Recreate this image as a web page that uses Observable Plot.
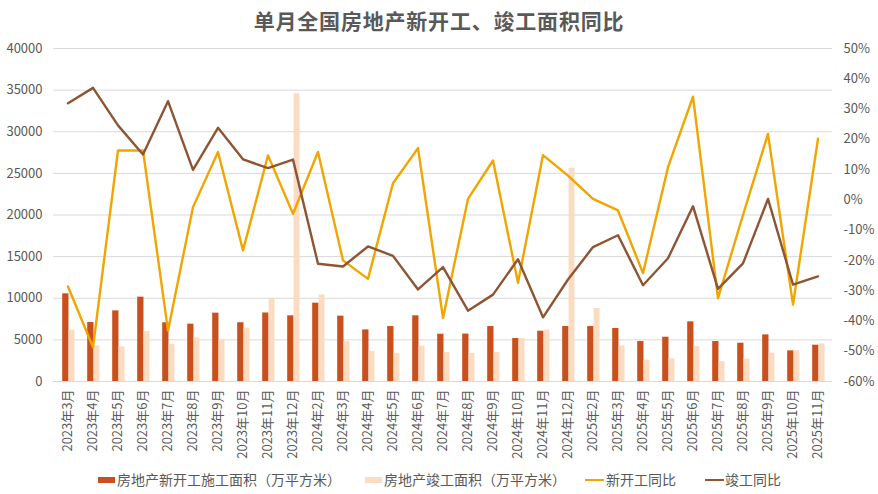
<!DOCTYPE html>
<html>
<head>
<meta charset="utf-8">
<script src="https://cdn.jsdelivr.net/npm/d3@7"></script>
<script src="https://cdn.jsdelivr.net/npm/@observablehq/plot@0.6"></script>
<style>
  html, body { margin: 0; padding: 0; background: #fff; }
  body { width: 878px; height: 494px; position: relative; overflow: hidden;
         font-family: "Noto Sans CJK SC", "Noto Sans", sans-serif; color: #595959; }
  #title { position: absolute; top: 4px; left: 0; width: 878px; text-align: center;
           font-size: 21px; font-weight: bold; line-height: 32px; color: #595959; letter-spacing: 0.8px; }
  #chart { position: absolute; top: 38px; left: 0; }
  .lg { position: absolute; font-size: 14px; line-height: 20px; top: 469px; color: #595959; white-space: nowrap; }
  .sw { position: absolute; }
</style>
</head>
<body>
<div id="title">单月全国房地产新开工、竣工面积同比</div>
<div id="chart"></div>
<div id="legend"></div>
<script>
const months = [
  "2023年3月","2023年4月","2023年5月","2023年6月","2023年7月","2023年8月","2023年9月","2023年10月","2023年11月","2023年12月",
  "2024年2月","2024年3月","2024年4月","2024年5月","2024年6月","2024年7月","2024年8月","2024年9月","2024年10月","2024年11月","2024年12月",
  "2025年2月","2025年3月","2025年4月","2025年5月","2025年6月","2025年7月","2025年8月","2025年9月","2025年10月","2025年11月"
];
// 房地产新开工施工面积（万平方米）
const newStartArea = [10530, 7085, 8486, 10130, 7060, 6890, 8210, 7060, 8230, 7890,
  9410, 7850, 6200, 6600, 7890, 5680, 5700, 6600, 5160, 6040, 6600,
  6600, 6370, 4800, 5320, 7170, 4800, 4600, 5600, 3680, 4360];
// 房地产竣工面积（万平方米）
const completedArea = [6170, 4280, 4160, 6000, 4480, 5240, 5000, 6410, 10010, 34550,
  10410, 4800, 3600, 3360, 4240, 3480, 3360, 3480, 5160, 6170, 25620,
  8770, 4280, 2560, 2720, 4200, 2400, 2680, 3400, 3680, 4520];
// 新开工同比 (%)
const newStartYoY = [-28.6, -48.7, 16.3, 16.3, -43.2, -2.4, 15.8, -16.7, 14.7, -4.6,
  15.8, -20, -26.1, 5.5, 17.1, -39, 0.3, 13, -27.4, 14.8, 8,
  0.3, -3.5, -24.2, 10.8, 34.1, -32.5, -5, 21.8, -34.6, 20.2];
// 竣工同比 (%)
const completedYoY = [31.9, 37, 24.6, 15, 32.6, 9.9, 23.8, 13.4, 10.5, 13.3,
  -21.1, -22, -15.4, -18.5, -29.6, -22.2, -36.6, -31.3, -19.6, -38.8, -26.3,
  -15.6, -11.7, -28.2, -19.3, -2.1, -29.4, -21, 0.3, -28, -25.3];

const leftTicks = [0, 5000, 10000, 15000, 20000, 25000, 30000, 35000, 40000];
const rightTicks = [-60, -50, -40, -30, -20, -10, 0, 10, 20, 30, 40, 50];

const legendItems = ["房地产新开工施工面积（万平方米）", "房地产竣工面积（万平方米）", "新开工同比", "竣工同比"];

const C_NEW = "#C9501C", C_DONE = "#FBDCC0", C_NEWYOY = "#F2A500", C_DONEYOY = "#8E5535";

// map right-axis percent onto the left-axis domain
const pMin = -60, pMax = 50, lMax = 40000;
const toLeft = p => (p - pMin) / (pMax - pMin) * lMax;
const fromLeft = v => v / lMax * (pMax - pMin) + pMin;

const data = months.map((m, i) => ({
  month: m, a: newStartArea[i], b: completedArea[i],
  s: toLeft(newStartYoY[i]), c: toLeft(completedYoY[i])
}));

const W = 878, H = 428, mL = 53, mR = 46, mT = 10, mB = 85;
const bw = (W - mL - mR) / months.length;

const chart = Plot.plot({
  width: W, height: H,
  marginTop: mT, marginBottom: mB, marginLeft: mL, marginRight: mR,
  style: { fontFamily: "'Noto Sans CJK SC', 'Noto Sans', sans-serif", fontSize: "13px", color: "#595959", background: "white", overflow: "visible" },
  x: { type: "band", domain: months, padding: 0, label: null },
  y: { domain: [0, lMax], label: null },
  marks: [
    Plot.ruleY(leftTicks, { stroke: "#D9D9D9", strokeWidth: 1 }),
    Plot.barY(data, { x: "month", y: "a", fill: C_NEW, insetLeft: 7.2, insetRight: bw - 13.6 }),
    Plot.barY(data, { x: "month", y: "b", fill: C_DONE, insetLeft: 13.6, insetRight: bw - 19.6 }),
    Plot.line(data, { x: "month", y: "s", stroke: C_NEWYOY, strokeWidth: 2.4 }),
    Plot.line(data, { x: "month", y: "c", stroke: C_DONEYOY, strokeWidth: 2.4 }),
    Plot.axisY(leftTicks, { anchor: "left", tickSize: 0, tickPadding: 11, label: null, fontSize: 13,
      tickFormat: v => String(v) }),
    Plot.axisY(rightTicks.map(toLeft), { anchor: "right", tickSize: 0, tickPadding: 11, label: null, fontSize: 13,
      tickFormat: v => Math.round(fromLeft(v)) + "%" }),
    Plot.axisX({ tickRotate: -90, tickSize: 0, tickPadding: 8, label: null, fontSize: 13 })
  ]
});
document.getElementById("chart").appendChild(chart);

// legend
const lg = document.getElementById("legend");
const pos = [
  { sx: 98, tx: 117, kind: "rect", color: C_NEW },
  { sx: 365, tx: 384, kind: "rect", color: C_DONE },
  { sx: 585, tx: 606, kind: "line", color: C_NEWYOY },
  { sx: 705, tx: 725, kind: "line", color: C_DONEYOY }
];
legendItems.forEach((t, i) => {
  const p = pos[i];
  const sw = document.createElement("div");
  sw.className = "sw";
  sw.style.left = p.sx + "px";
  sw.style.width = (p.kind === "rect" ? 17 : 19) + "px";
  sw.style.top = (p.kind === "rect" ? 477 : 478.5) + "px";
  sw.style.height = (p.kind === "rect" ? 5.5 : 2.5) + "px";
  sw.style.background = p.color;
  lg.appendChild(sw);
  const tx = document.createElement("div");
  tx.className = "lg";
  tx.style.left = p.tx + "px";
  tx.textContent = t;
  lg.appendChild(tx);
});
</script>
</body>
</html>
